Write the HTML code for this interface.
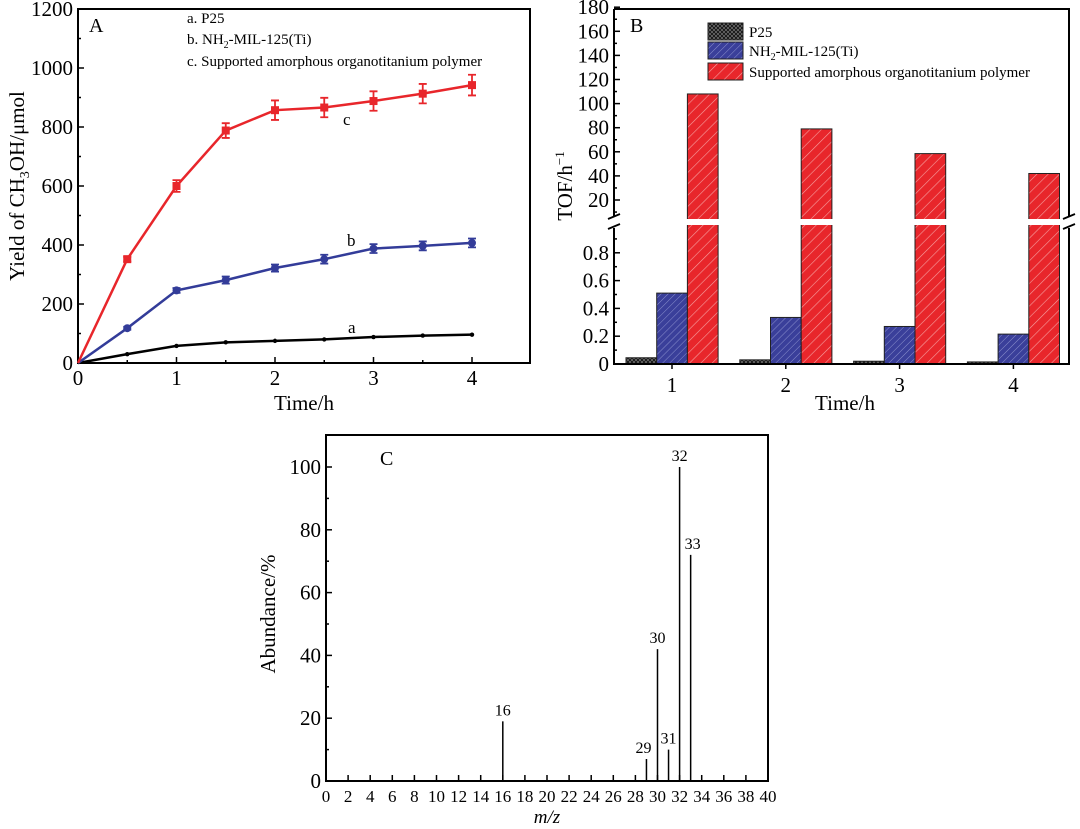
<!DOCTYPE html>
<html><head><meta charset="utf-8"><style>
html,body{margin:0;padding:0;background:#fff;}
svg{display:block;font-family:"Liberation Serif",serif;}
</style></head><body>
<svg id="fig" width="1080" height="829" viewBox="0 0 1080 829" xmlns="http://www.w3.org/2000/svg">
<defs>
<pattern id="hatchRed" patternUnits="userSpaceOnUse" width="8" height="8" patternTransform="rotate(45)">
<rect width="8" height="8" fill="#e8262b"/><line x1="0" y1="0" x2="0" y2="8" stroke="#f6a0a0" stroke-width="1.2"/></pattern>
<pattern id="hatchBlue" patternUnits="userSpaceOnUse" width="5" height="5" patternTransform="rotate(45)">
<rect width="5" height="5" fill="#3a3f9a"/><line x1="0" y1="0" x2="0" y2="5" stroke="#8a8fcc" stroke-width="1"/></pattern>
<pattern id="hatchBlack" patternUnits="userSpaceOnUse" width="4" height="4">
<rect width="4" height="4" fill="#111"/><path d="M0,0L4,4M4,0L0,4" stroke="#777" stroke-width="0.7"/></pattern>
</defs>
<g id="gA"></g>
<g id="gB"></g>
<g id="gC"></g>
</svg>
<script>
// Panel A data
const timesA = [0,0.5,1,1.5,2,2.5,3,3.5,4];
const yieldC = [0,352,600,788,857,866,888,913,942];
const errC = [0,8,20,25,33,33,33,33,35];
const yieldB = [0,118,246,281,322,352,388,397,407];
const errB = [0,5,8,12,12,15,15,15,15];
const yieldA = [0,30,58,70,75,80,88,93,96];
const errA = [0,3,3,3,3,3,4,4,4];
const yTicksA = [0,200,400,600,800,1000,1200];
const xTicksA = [0,1,2,3,4];
// Panel B data
const groupsB = [1,2,3,4];
const tofP25 = [0.045,0.03,0.02,0.015];
const tofMIL = [0.51,0.335,0.27,0.215];
const tofPoly = [108,79,58.5,42];
const lowTicksB = ["0","0.2","0.4","0.6","0.8"];
const upTicksB = [20,40,60,80,100,120,140,160,180];
// Panel C data
const mzPeaks = [16,29,30,31,32,33];
const abundance = [19,7,42,10,100,72];
const xTicksC = [0,2,4,6,8,10,12,14,16,18,20,22,24,26,28,30,32,34,36,38,40];
const yTicksC = [0,20,40,60,80,100];

const NS="http://www.w3.org/2000/svg";
function mk(parent,tag,attrs,text){const e=document.createElementNS(NS,tag);for(const k in attrs)e.setAttribute(k,attrs[k]);if(text!==undefined)e.textContent=text;parent.appendChild(e);return e;}

// ---------- Panel A ----------
(function(){
const g=document.getElementById('gA');
const L=78,R=530,T=9,B=363;
const xs=v=>L+v*98.5, ys=v=>B-v*0.295;
let e=mk(g,'rect',{x:L,y:T,width:R-L,height:B-T,fill:'none',stroke:'#000','stroke-width':2});

for(let v=0;v<=1200;v+=100){const y=ys(v);mk(g,'line',{x1:L,y1:y,x2:L+(v%200?3:6),y2:y,stroke:'#000','stroke-width':1.5});}
yTicksA.forEach(v=>{e=mk(g,'text',{x:L-5,y:ys(v)+7,'text-anchor':'end','font-size':21},String(v));
});
for(let v=0;v<=4;v+=0.5){const x=xs(v);mk(g,'line',{x1:x,y1:B,x2:x,y2:B-(v%1?3:6),stroke:'#000','stroke-width':1.5});}
xTicksA.forEach(v=>{e=mk(g,'text',{x:xs(v),y:B+22,'text-anchor':'middle','font-size':21},String(v));
});
e=mk(g,'text',{x:304,y:410,'text-anchor':'middle','font-size':21},'Time/h');

e=mk(g,'text',{transform:'translate(24,186) rotate(-90)','text-anchor':'middle','font-size':21});

e.innerHTML='Yield of CH<tspan font-size="14" dy="5">3</tspan><tspan dy="-5">OH/μmol</tspan>';
e=mk(g,'text',{x:89,y:32,'font-size':20},'A');
e=mk(g,'text',{x:187,y:23,'font-size':15},'a. P25');
e=mk(g,'text',{x:187,y:44,'font-size':15});e.innerHTML='b. NH<tspan font-size="10" dy="4">2</tspan><tspan dy="-4">-MIL-125(Ti)</tspan>';

e=mk(g,'text',{x:187,y:66,'font-size':15},'c. Supported amorphous organotitanium polymer');
function series(vals,errs,color,name,marker){
  const pts=timesA.map((t,i)=>xs(t)+','+ys(vals[i])).join(' ');
  let p=mk(g,'polyline',{points:pts,fill:'none',stroke:color,'stroke-width':2.5});
  
  timesA.forEach((t,i)=>{if(i===0)return;const x=xs(t),y=ys(vals[i]);
    if(errs[i]>4){const y1=ys(vals[i]+errs[i]),y2=ys(vals[i]-errs[i]);
      let eb=mk(g,'path',{d:`M${x},${y1}V${y2}M${x-4},${y1}H${x+4}M${x-4},${y2}H${x+4}`,stroke:color,'stroke-width':1.8,fill:'none'});
      }
    let m;
    if(marker==='sq')m=mk(g,'rect',{x:x-4,y:y-4,width:8,height:8,fill:color});
    else if(marker==='ci')m=mk(g,'circle',{cx:x,cy:y,r:4,fill:color});
    else m=mk(g,'circle',{cx:x,cy:y,r:2.2,fill:color});
    });
}
series(yieldA,errA,'#000','series-a','dot');
series(yieldB,errB,'#333c99','series-b','ci');
series(yieldC,errC,'#e8262b','series-c','sq');
[['a',348,333],['b',347,246],['c',343,125]].forEach(([s,x,y])=>{
  e=mk(g,'text',{x:x,y:y,'font-size':17},s);});
})();

// ---------- Panel B ----------
(function(){
const g=document.getElementById('gB');
const L=614,R=1069,T=9,B=364,brkTop=219,brkBot=225;
const yLow=v=>B-v*139, yUp=v=>200-(v-20)*1.205;
const cx=k=>672+(k-1)*113.8;
const bw=30.7;
let e;
function bar(x,yTop,fill,name){let r=mk(g,'rect',{x:x,y:yTop,width:bw,height:B-yTop,fill:fill,stroke:'#222','stroke-width':1});
  }
groupsB.forEach((k,i)=>{const c=cx(k);
  bar(c-46,yLow(tofP25[i]),'url(#hatchBlack)','bar-p25-'+k);
  bar(c-46+bw,yLow(tofMIL[i]),'url(#hatchBlue)','bar-mil125-'+k);
  bar(c-46+2*bw,yUp(tofPoly[i]),'url(#hatchRed)','bar-polymer-'+k);});
mk(g,'rect',{x:L+2,y:brkTop,width:R-L-4,height:brkBot-brkTop,fill:'#fff'});
e=mk(g,'path',{d:`M${L},${T}H${R}V${brkTop-3}M${R},${brkBot+3}V${B}H${L}V${brkBot+3}M${L},${brkTop-3}V${T}`,fill:'none',stroke:'#000','stroke-width':2});

[L,R].forEach(x=>{mk(g,'path',{d:`M${x-6},${brkTop}L${x+6},${brkTop-5}M${x-6},${brkBot+4}L${x+6},${brkBot-1}`,stroke:'#000','stroke-width':1.8});});
lowTicksB.forEach(s=>{const y=yLow(+s);mk(g,'line',{x1:L,y1:y,x2:L+6,y2:y,stroke:'#000','stroke-width':1.5});
  if(+s<0.9){const ym=yLow(+s+0.1);mk(g,'line',{x1:L,y1:ym,x2:L+3,y2:ym,stroke:'#000','stroke-width':1.5});}
  e=mk(g,'text',{x:L-5,y:y+7,'text-anchor':'end','font-size':21},s);});
upTicksB.forEach(v=>{const y=yUp(v);mk(g,'line',{x1:L,y1:y,x2:L+6,y2:y,stroke:'#000','stroke-width':1.5});
  const ym=yUp(v-10);if(ym<brkTop-2)mk(g,'line',{x1:L,y1:ym,x2:L+3,y2:ym,stroke:'#000','stroke-width':1.5});
  e=mk(g,'text',{x:L-5,y:y+7,'text-anchor':'end','font-size':21},String(v));});
groupsB.forEach(k=>{mk(g,'line',{x1:cx(k),y1:B,x2:cx(k),y2:B+5,stroke:'#000','stroke-width':1.5});
  e=mk(g,'text',{x:cx(k),y:B+28,'text-anchor':'middle','font-size':21},String(k));});
e=mk(g,'text',{x:845,y:410,'text-anchor':'middle','font-size':21},'Time/h');
e=mk(g,'text',{transform:'translate(572,186) rotate(-90)','text-anchor':'middle','font-size':21});
e.innerHTML='TOF/h<tspan font-size="13" dy="-8">−1</tspan>';
e=mk(g,'text',{x:630,y:32,'font-size':20},'B');
const lg=[['url(#hatchBlack)','P25',23],['url(#hatchBlue)','NH2',42],['url(#hatchRed)','Supported amorphous organotitanium polymer',63]];
lg.forEach(([f,t,y],i)=>{let r=mk(g,'rect',{x:708,y:y,width:35,height:17,fill:f,stroke:'#222','stroke-width':1});
  
  let tx=mk(g,'text',{x:749,y:y+14,'font-size':15});
  if(i===1)tx.innerHTML='NH<tspan font-size="10" dy="4">2</tspan><tspan dy="-4">-MIL-125(Ti)</tspan>';else tx.textContent=t;
  });
})();

// ---------- Panel C ----------
(function(){
const g=document.getElementById('gC');
const L=326,R=768,T=435,B=781;
const xs=v=>L+v*11.05, ys=v=>B-v*3.14;
let e=mk(g,'rect',{x:L,y:T,width:R-L,height:B-T,fill:'none',stroke:'#000','stroke-width':2});

xTicksC.forEach(v=>{const x=xs(v);mk(g,'line',{x1:x,y1:B,x2:x,y2:B-6,stroke:'#000','stroke-width':1.5});
  e=mk(g,'text',{x:x,y:B+21,'text-anchor':'middle','font-size':17},String(v));});
for(let v=0;v<=100;v+=10){const y=ys(v);mk(g,'line',{x1:L,y1:y,x2:L+(v%20?3:6),y2:y,stroke:'#000','stroke-width':1.5});}
yTicksC.forEach(v=>{e=mk(g,'text',{x:L-5,y:ys(v)+7,'text-anchor':'end','font-size':21},String(v));});
e=mk(g,'text',{x:547,y:823,'text-anchor':'middle','font-size':19,'font-style':'italic'},'m/z');
e=mk(g,'text',{transform:'translate(275,614) rotate(-90)','text-anchor':'middle','font-size':21},'Abundance/%');
e=mk(g,'text',{x:380,y:465,'font-size':20},'C');
const off={16:[0,-6],29:[-3,-6],30:[0,-6],31:[0,-6],32:[0,-6],33:[2,-6]};
mzPeaks.forEach((m,i)=>{const x=xs(m),y=ys(abundance[i]);
  let l=mk(g,'line',{x1:x,y1:B,x2:x,y2:y,stroke:'#000','stroke-width':1.5});
  
  let t=mk(g,'text',{x:x+off[m][0],y:y+off[m][1],'text-anchor':'middle','font-size':16},String(m));
  });
})();
</script>
</body></html>
